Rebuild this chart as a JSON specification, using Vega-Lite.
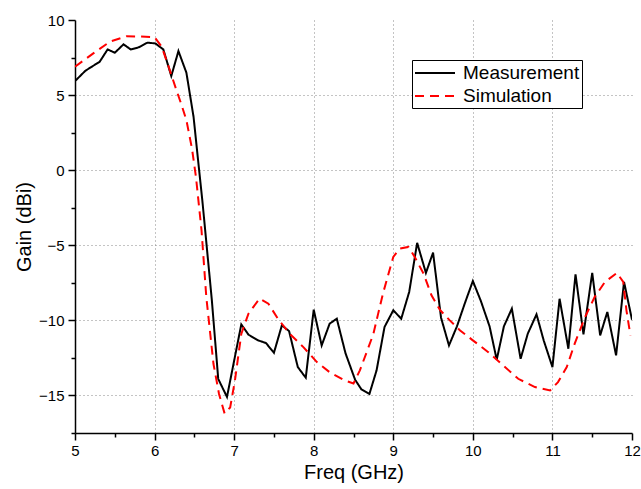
{
  "$schema": "https://vega.github.io/schema/vega-lite/v6.json",
  "width": 557,
  "height": 413,
  "autosize": {"type": "none"},
  "padding": {"left": 75, "top": 20, "right": 9, "bottom": 56},
  "background": "white",
  "config": {
    "view": {"stroke": null},
    "font": "Liberation Sans",
    "axis": {
      "domainColor": "black",
      "domainWidth": 1.5,
      "tickColor": "black",
      "tickWidth": 1.5,
      "labelColor": "black",
      "labelFont": "Liberation Sans",
      "labelFontSize": 15,
      "titleFont": "Liberation Sans",
      "titleFontSize": 20,
      "titleFontWeight": "normal",
      "titleColor": "black",
      "gridColor": "#888888",
      "gridDash": [1, 3],
      "gridWidth": 1
    }
  },
  "data": {
    "values": [
      {"series": "Measurement", "freq": 5.00, "gain": 5.93},
      {"series": "Measurement", "freq": 5.13, "gain": 6.62},
      {"series": "Measurement", "freq": 5.31, "gain": 7.22},
      {"series": "Measurement", "freq": 5.41, "gain": 8.04},
      {"series": "Measurement", "freq": 5.50, "gain": 7.82},
      {"series": "Measurement", "freq": 5.61, "gain": 8.38},
      {"series": "Measurement", "freq": 5.70, "gain": 8.04},
      {"series": "Measurement", "freq": 5.80, "gain": 8.18},
      {"series": "Measurement", "freq": 5.91, "gain": 8.49},
      {"series": "Measurement", "freq": 6.01, "gain": 8.44},
      {"series": "Measurement", "freq": 6.11, "gain": 8.04},
      {"series": "Measurement", "freq": 6.21, "gain": 6.27},
      {"series": "Measurement", "freq": 6.30, "gain": 7.93},
      {"series": "Measurement", "freq": 6.40, "gain": 6.49},
      {"series": "Measurement", "freq": 6.49, "gain": 3.55},
      {"series": "Measurement", "freq": 6.56, "gain": 0.0},
      {"series": "Measurement", "freq": 6.60, "gain": -2.0},
      {"series": "Measurement", "freq": 6.72, "gain": -8.67},
      {"series": "Measurement", "freq": 6.80, "gain": -13.9},
      {"series": "Measurement", "freq": 6.91, "gain": -15.1},
      {"series": "Measurement", "freq": 7.09, "gain": -10.27},
      {"series": "Measurement", "freq": 7.18, "gain": -10.95},
      {"series": "Measurement", "freq": 7.30, "gain": -11.33},
      {"series": "Measurement", "freq": 7.40, "gain": -11.51},
      {"series": "Measurement", "freq": 7.50, "gain": -12.16},
      {"series": "Measurement", "freq": 7.60, "gain": -10.33},
      {"series": "Measurement", "freq": 7.69, "gain": -10.71},
      {"series": "Measurement", "freq": 7.80, "gain": -13.11},
      {"series": "Measurement", "freq": 7.90, "gain": -13.82},
      {"series": "Measurement", "freq": 8.00, "gain": -9.29},
      {"series": "Measurement", "freq": 8.10, "gain": -11.67},
      {"series": "Measurement", "freq": 8.20, "gain": -10.22},
      {"series": "Measurement", "freq": 8.29, "gain": -9.89},
      {"series": "Measurement", "freq": 8.40, "gain": -12.2},
      {"series": "Measurement", "freq": 8.52, "gain": -13.95},
      {"series": "Measurement", "freq": 8.60, "gain": -14.6},
      {"series": "Measurement", "freq": 8.70, "gain": -14.9},
      {"series": "Measurement", "freq": 8.79, "gain": -13.33},
      {"series": "Measurement", "freq": 8.89, "gain": -10.44},
      {"series": "Measurement", "freq": 9.00, "gain": -9.33},
      {"series": "Measurement", "freq": 9.10, "gain": -9.89},
      {"series": "Measurement", "freq": 9.20, "gain": -8.11},
      {"series": "Measurement", "freq": 9.30, "gain": -4.84},
      {"series": "Measurement", "freq": 9.41, "gain": -6.84},
      {"series": "Measurement", "freq": 9.50, "gain": -5.49},
      {"series": "Measurement", "freq": 9.60, "gain": -9.82},
      {"series": "Measurement", "freq": 9.70, "gain": -11.67},
      {"series": "Measurement", "freq": 9.80, "gain": -10.4},
      {"series": "Measurement", "freq": 9.90, "gain": -8.85},
      {"series": "Measurement", "freq": 10.00, "gain": -7.38},
      {"series": "Measurement", "freq": 10.10, "gain": -8.7},
      {"series": "Measurement", "freq": 10.21, "gain": -10.4},
      {"series": "Measurement", "freq": 10.30, "gain": -12.62},
      {"series": "Measurement", "freq": 10.39, "gain": -10.4},
      {"series": "Measurement", "freq": 10.49, "gain": -9.22},
      {"series": "Measurement", "freq": 10.60, "gain": -12.56},
      {"series": "Measurement", "freq": 10.69, "gain": -10.89},
      {"series": "Measurement", "freq": 10.80, "gain": -9.6},
      {"series": "Measurement", "freq": 10.89, "gain": -11.33},
      {"series": "Measurement", "freq": 11.00, "gain": -13.11},
      {"series": "Measurement", "freq": 11.09, "gain": -8.56},
      {"series": "Measurement", "freq": 11.20, "gain": -11.89},
      {"series": "Measurement", "freq": 11.29, "gain": -6.93},
      {"series": "Measurement", "freq": 11.39, "gain": -10.93},
      {"series": "Measurement", "freq": 11.50, "gain": -6.84},
      {"series": "Measurement", "freq": 11.60, "gain": -11.0},
      {"series": "Measurement", "freq": 11.69, "gain": -9.44},
      {"series": "Measurement", "freq": 11.80, "gain": -12.33},
      {"series": "Measurement", "freq": 11.90, "gain": -7.44},
      {"series": "Measurement", "freq": 12.00, "gain": -9.96},
      {"series": "Simulation", "freq": 5.00, "gain": 6.89},
      {"series": "Simulation", "freq": 5.23, "gain": 7.78},
      {"series": "Simulation", "freq": 5.44, "gain": 8.56},
      {"series": "Simulation", "freq": 5.65, "gain": 8.92},
      {"series": "Simulation", "freq": 5.82, "gain": 8.9},
      {"series": "Simulation", "freq": 6.00, "gain": 8.85},
      {"series": "Simulation", "freq": 6.09, "gain": 8.22},
      {"series": "Simulation", "freq": 6.17, "gain": 7.0},
      {"series": "Simulation", "freq": 6.26, "gain": 5.56},
      {"series": "Simulation", "freq": 6.34, "gain": 4.33},
      {"series": "Simulation", "freq": 6.40, "gain": 3.33},
      {"series": "Simulation", "freq": 6.47, "gain": 1.44},
      {"series": "Simulation", "freq": 6.52, "gain": -0.44},
      {"series": "Simulation", "freq": 6.59, "gain": -4.0},
      {"series": "Simulation", "freq": 6.65, "gain": -8.44},
      {"series": "Simulation", "freq": 6.74, "gain": -12.89},
      {"series": "Simulation", "freq": 6.81, "gain": -14.9},
      {"series": "Simulation", "freq": 6.88, "gain": -16.2},
      {"series": "Simulation", "freq": 6.95, "gain": -15.8},
      {"series": "Simulation", "freq": 7.01, "gain": -14.0},
      {"series": "Simulation", "freq": 7.09, "gain": -10.9},
      {"series": "Simulation", "freq": 7.18, "gain": -9.55},
      {"series": "Simulation", "freq": 7.32, "gain": -8.55},
      {"series": "Simulation", "freq": 7.43, "gain": -8.89},
      {"series": "Simulation", "freq": 7.55, "gain": -9.89},
      {"series": "Simulation", "freq": 7.70, "gain": -10.9},
      {"series": "Simulation", "freq": 7.87, "gain": -11.78},
      {"series": "Simulation", "freq": 8.04, "gain": -12.78},
      {"series": "Simulation", "freq": 8.20, "gain": -13.45},
      {"series": "Simulation", "freq": 8.39, "gain": -14.0},
      {"series": "Simulation", "freq": 8.50, "gain": -14.2},
      {"series": "Simulation", "freq": 8.58, "gain": -13.33},
      {"series": "Simulation", "freq": 8.66, "gain": -12.2},
      {"series": "Simulation", "freq": 8.75, "gain": -10.9},
      {"series": "Simulation", "freq": 8.81, "gain": -9.55},
      {"series": "Simulation", "freq": 8.87, "gain": -8.22},
      {"series": "Simulation", "freq": 8.94, "gain": -6.89},
      {"series": "Simulation", "freq": 9.00, "gain": -5.78},
      {"series": "Simulation", "freq": 9.08, "gain": -5.22},
      {"series": "Simulation", "freq": 9.19, "gain": -5.11},
      {"series": "Simulation", "freq": 9.27, "gain": -5.78},
      {"series": "Simulation", "freq": 9.38, "gain": -6.89},
      {"series": "Simulation", "freq": 9.48, "gain": -8.33},
      {"series": "Simulation", "freq": 9.59, "gain": -9.33},
      {"series": "Simulation", "freq": 9.71, "gain": -10.0},
      {"series": "Simulation", "freq": 9.84, "gain": -10.67},
      {"series": "Simulation", "freq": 10.00, "gain": -11.33},
      {"series": "Simulation", "freq": 10.19, "gain": -12.1},
      {"series": "Simulation", "freq": 10.38, "gain": -13.0},
      {"series": "Simulation", "freq": 10.57, "gain": -13.89},
      {"series": "Simulation", "freq": 10.78, "gain": -14.44},
      {"series": "Simulation", "freq": 10.97, "gain": -14.67},
      {"series": "Simulation", "freq": 11.07, "gain": -14.11},
      {"series": "Simulation", "freq": 11.18, "gain": -13.11},
      {"series": "Simulation", "freq": 11.28, "gain": -11.55},
      {"series": "Simulation", "freq": 11.41, "gain": -9.78},
      {"series": "Simulation", "freq": 11.53, "gain": -8.45},
      {"series": "Simulation", "freq": 11.66, "gain": -7.44},
      {"series": "Simulation", "freq": 11.81, "gain": -6.84},
      {"series": "Simulation", "freq": 11.89, "gain": -7.44},
      {"series": "Simulation", "freq": 11.93, "gain": -9.33},
      {"series": "Simulation", "freq": 11.98, "gain": -11.0}
    ]
  },
  "mark": {"type": "line", "strokeWidth": 2, "clip": true},
  "encoding": {
    "x": {
      "field": "freq",
      "type": "quantitative",
      "scale": {"domain": [5, 12], "nice": false, "zero": false},
      "axis": {
        "title": "Freq (GHz)",
        "values": [5, 5.5, 6, 6.5, 7, 7.5, 8, 8.5, 9, 9.5, 10, 10.5, 11, 11.5, 12],
        "labelExpr": "datum.value % 1 === 0 ? format(datum.value, 'd') : ''",
        "tickSize": {"condition": {"test": "datum.value % 1 === 0", "value": 7}, "value": 4},
        "gridOpacity": {"condition": {"test": "datum.value % 1 === 0 && datum.value > 5 && datum.value < 12", "value": 1}, "value": 0},
        "labelPadding": 3,
        "titlePadding": 4,
        "labelFlush": false
      }
    },
    "y": {
      "field": "gain",
      "type": "quantitative",
      "scale": {"domain": [-17.5, 10], "nice": false, "zero": false},
      "axis": {
        "title": "Gain (dBi)",
        "values": [-17.5, -15, -12.5, -10, -7.5, -5, -2.5, 0, 2.5, 5, 7.5, 10],
        "labelExpr": "datum.value % 5 === 0 ? format(datum.value, 'd') : ''",
        "tickSize": {"condition": {"test": "datum.value % 5 === 0", "value": 7}, "value": 4},
        "gridOpacity": {"condition": {"test": "datum.value % 5 === 0 && datum.value < 10", "value": 1}, "value": 0},
        "labelPadding": 4,
        "titlePadding": 4,
        "labelFlush": false
      }
    },
    "color": {
      "field": "series",
      "type": "nominal",
      "scale": {"domain": ["Measurement", "Simulation"], "range": ["#000000", "#ff0000"]},
      "legend": {
        "title": null,
        "orient": "none",
        "legendX": 337,
        "legendY": 40,
        "symbolType": "M-1,0H3",
        "symbolSize": 400,
        "symbolStrokeWidth": 2,
        "labelFontSize": 19,
        "labelFont": "Liberation Sans",
        "labelColor": "black",
        "strokeColor": "black",
        "fillColor": "white",
        "padding": 2,
        "rowPadding": 2,
        "labelOffset": 27
      }
    },
    "strokeDash": {
      "field": "series",
      "type": "nominal",
      "scale": {"domain": ["Measurement", "Simulation"], "range": [[1, 0], [9, 6]]},
      "legend": null
    }
  }
}
